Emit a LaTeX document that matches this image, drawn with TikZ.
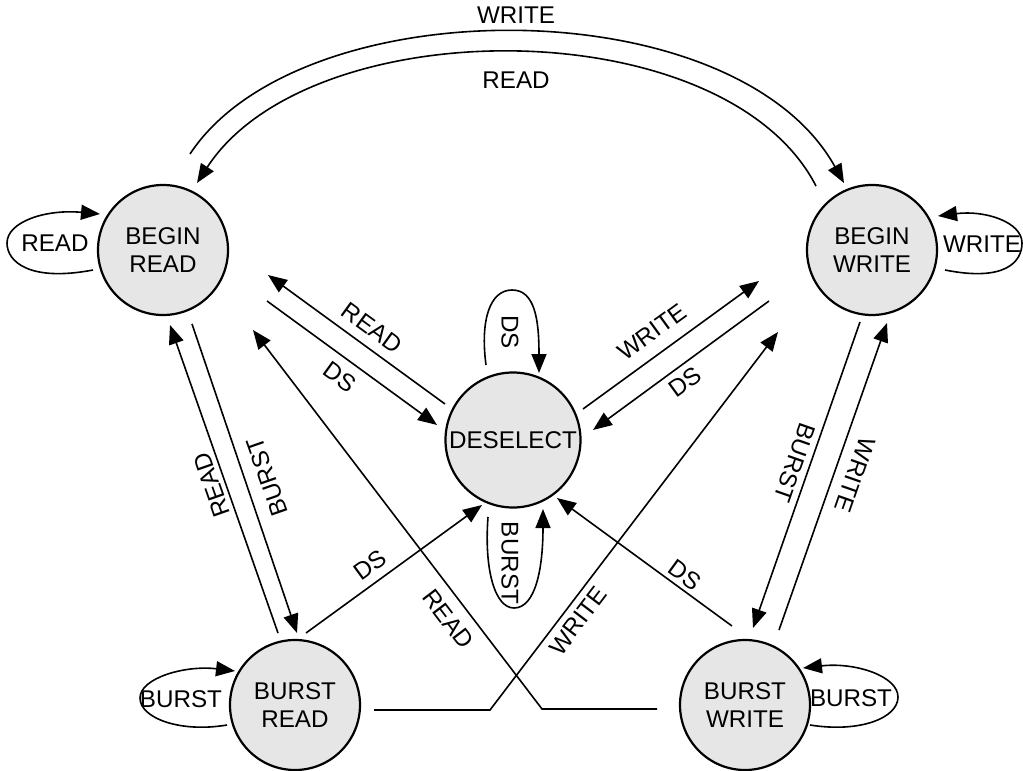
\documentclass[tikz,border=0pt]{standalone}
\usepackage{fontspec}
\setmainfont{Liberation Sans}
\usetikzlibrary{arrows.meta,calc}
\definecolor{stategray}{HTML}{E6E6E6}
\begin{document}
\begin{tikzpicture}[x=0.5pt,y=-0.5pt,
  font=\fontsize{12.1}{14}\selectfont,
  state/.style={circle,draw,line width=1.1pt,fill=stategray,inner sep=0pt,minimum size=65pt,align=center},
  lbl/.style={inner sep=0pt},
  conn/.style={line width=0.8pt,-{Triangle[length=9.5pt,width=7.5pt]}},
  plainline/.style={line width=0.8pt}]
\useasboundingbox (0,0) rectangle (1023,771);

% states
\node[state] (BR) at (163,250) {BEGIN\\READ};
\node[state] (BW) at (872,250) {BEGIN\\WRITE};
\node[state,minimum size=67.5pt] (D) at (513,440) {DESELECT};
\node[state] (UR) at (295,705) {BURST\\READ};
\node[state] (UW) at (745,705) {BURST\\WRITE};

% top arcs
\draw[conn] ($(BR)+(27,-96)$) .. controls (300,-13) and (735,-13) .. ($(BW)+(-28,-67)$);
\draw[conn] ($(BW)+(-56,-64)$) .. controls (725,9) and (310,9) .. ($(BR)+(34,-67)$);
\node[lbl] (lw1) at (516,15) {WRITE};
\node[lbl] (lr1) at (516,80) {READ};

% self loops
\draw[conn] ($(BR)+(-70,20)$) .. controls (30,282) and (7,262) .. (7,243) .. controls (7,222) and (45,209) .. ($(BR)+(-63,-36)$);
\node[lbl] (lr2) at (55,243) {READ};
\draw[conn] ($(BW)+(73,20)$) .. controls (1005,282) and (1022,262) .. (1022,243) .. controls (1022,222) and (985,210) .. ($(BW)+(66,-34)$);
\node[lbl] (lw2) at (982,244) {WRITE};
\draw[conn] ($(D)+(-27,-75)$) .. controls (480,320) and (490,290) .. (512,290) .. controls (535,290) and (539,320) .. ($(D)+(26,-67)$);
\node[lbl,rotate=-90] (lds1) at (510,332) {DS};
\draw[conn] ($(D)+(-25,77)$) .. controls (484,570) and (495,608) .. (514,608) .. controls (535,608) and (543,570) .. ($(D)+(30,69)$);
\node[lbl,rotate=-90] (lb1) at (510,563) {BURST};
\draw[conn] ($(UR)+(-68,20)$) .. controls (180,733) and (140,718) .. (140,698) .. controls (140,678) and (185,665) .. ($(UR)+(-60,-34)$);
\node[lbl] (lb2) at (181,699) {BURST};
\draw[conn] ($(UW)+(65,20)$) .. controls (860,733) and (898,718) .. (898,697) .. controls (898,676) and (855,662) .. ($(UW)+(58,-37)$);
\node[lbl] (lb3) at (851,698) {BURST};

% BEGIN READ <-> DESELECT
\draw[conn] ($(D)+(-68,-36)$) -- ($(BR)+(105,25)$);
\node[lbl,rotate=-36] (lr3) at (372,328) {READ};
\draw[conn] ($(BR)+(104,51)$) -- ($(D)+(-76,-15)$);
\node[lbl,rotate=-36] (lds2) at (340,377) {DS};

% BEGIN WRITE <-> DESELECT
\draw[conn] ($(D)+(70,-31)$) -- ($(BW)+(-113,31)$);
\node[lbl,rotate=36] (lw3) at (652,332) {WRITE};
\draw[conn] ($(BW)+(-103,51)$) -- ($(D)+(80,-10)$);
\node[lbl,rotate=36] (lds3) at (685,382) {DS};

% BEGIN READ <-> BURST READ
\draw[conn] ($(UR)+(-17,-72)$) -- ($(BR)+(7,75)$);
\node[lbl,rotate=109.3] (lr4) at (212,485) {READ};
\draw[conn] ($(BR)+(29,74)$) -- ($(UR)+(2,-72)$);
\node[lbl,rotate=109.3] (lb4) at (267,477) {BURST};

% BEGIN WRITE <-> BURST WRITE
\draw[conn] ($(BW)+(-12,72)$) -- ($(UW)+(8,-77)$);
\node[lbl,rotate=-109.3] (lb5) at (795,463) {BURST};
\draw[conn] ($(UW)+(34,-75)$) -- ($(BW)+(15,73)$);
\node[lbl,rotate=-109.3] (lw4) at (855,475) {WRITE};

% bursts -> DESELECT
\draw[conn] ($(UR)+(11,-72)$) -- ($(D)+(-31,65)$);
\node[lbl,rotate=36] (lds4) at (370,565) {DS};
\draw[conn] ($(UW)+(-13,-79)$) -- ($(D)+(44,58)$);
\node[lbl,rotate=-36] (lds5) at (685,575) {DS};

% long crossing lines
\draw[conn] ($(UR)+(79,5)$) -- ($(UR)+(195,5)$) -- ($(BW)+(-94,82)$);
\node[lbl,rotate=52.7] (lw5) at (578,621) {WRITE};
\draw[conn] ($(UW)+(-88,4)$) -- ($(UW)+(-203,4)$) -- ($(BR)+(90,80)$);
\node[lbl,rotate=-52.7] (lr5) at (448,619) {READ};
\end{tikzpicture}
\end{document}
